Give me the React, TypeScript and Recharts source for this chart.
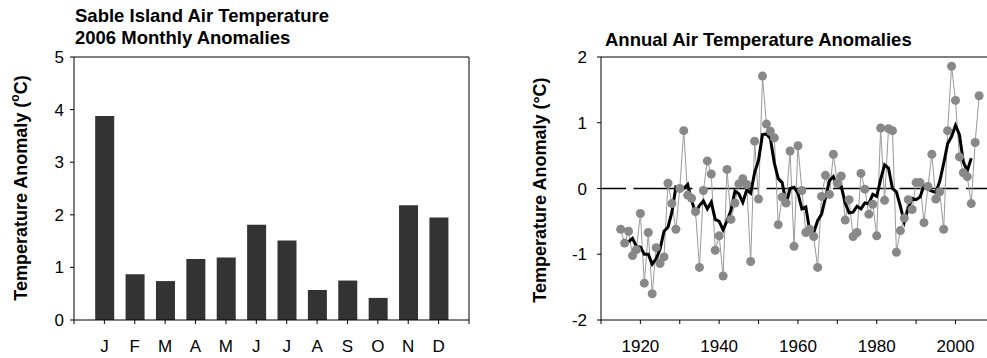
import React from 'react';
import { BarChart, Bar, XAxis, YAxis, ReferenceLine, ComposedChart, Line } from 'recharts';

const FONT = '"Liberation Sans", Arial, Helvetica, sans-serif';

// ---- Left chart: 2006 monthly anomalies ----
const MONTH_LABELS = ['J', 'F', 'M', 'A', 'M', 'J', 'J', 'A', 'S', 'O', 'N', 'D'];
const MONTHLY_ANOMALY = [3.88, 0.87, 0.74, 1.16, 1.19, 1.81, 1.51, 0.57, 0.75, 0.42, 2.18, 1.95];
const MONTHLY_Y_TICKS = [0, 1, 2, 3, 4, 5];
const MONTH_POS_TICKS = [0, 1, 2, 3, 4, 5, 6, 7, 8, 9, 10, 11, 12, 13];

// ---- Right chart: annual anomalies 1915-2006 ----
const FIRST_YEAR = 1915;
const ANNUAL_ANOMALY = [
  -0.62, -0.83, -0.65, -1.02, -0.93, -0.38, -1.44, -0.67, -1.6, -0.9,
  -1.14, -1.04, 0.08, -0.23, -0.62, 0.0, 0.88, -0.1, -0.15, -0.35,
  -1.2, -0.03, 0.42, 0.22, -0.94, -0.72, -1.33, 0.29, -0.47, -0.22,
  0.07, 0.15, 0.06, -1.11, 0.72, -0.16, 1.71, 0.98, 0.87, 0.77,
  -0.55, -0.13, -0.22, 0.57, -0.88, 0.65, -0.03, -0.67, -0.62, -0.73,
  -1.2, -0.12, 0.2, -0.09, 0.52, 0.08, 0.19, -0.48, -0.17, -0.73,
  -0.67, 0.23, -0.01, -0.39, -0.24, -0.72, 0.92, -0.18, 0.91, 0.88,
  -0.97, -0.64, -0.45, -0.17, -0.32, 0.09, 0.09, -0.52, 0.03, 0.52,
  -0.16, -0.05, -0.62, 0.88, 1.86, 1.34, 0.48, 0.24, 0.18, -0.23,
  0.7, 1.41,
];
const RUNNING_MEAN = [
  null, null,
  -0.81, -0.76, -0.88, -0.89, -1.0, -1.0, -1.15, -1.07, -0.92, -0.65,
  -0.59, -0.36, 0.02, -0.01, 0.0, 0.06, -0.18, -0.37, -0.26, -0.19,
  -0.31, -0.21, -0.47, -0.5, -0.63, -0.49, -0.33, -0.04, -0.08, -0.21,
  -0.02, -0.07, 0.24, 0.43, 0.82, 0.83, 0.76, 0.39, 0.15, 0.09,
  -0.24, 0.0, 0.02, -0.07, -0.31, -0.28, -0.65, -0.67, -0.49, -0.39,
  -0.14, 0.12, 0.18, 0.04, 0.03, -0.22, -0.37, -0.36, -0.27, -0.31,
  -0.22, -0.23, -0.09, -0.12, 0.14, 0.36, 0.31, 0.0, -0.05, -0.27,
  -0.51, -0.3, -0.15, -0.17, -0.13, 0.04, -0.01, -0.04, -0.06, 0.11,
  0.38, 0.68, 0.79, 0.96, 0.82, 0.4, 0.27, 0.46,
  null, null,
];
const ANNUAL_Y_TICKS = [-2, -1, 0, 1, 2];
const YEAR_TICKS = [1910, 1920, 1930, 1940, 1950, 1960, 1970, 1980, 1990, 2000];
const YEAR_LABELS = [1920, 1940, 1960, 1980, 2000];

const monthlyData = MONTHLY_ANOMALY.map((v, i) => ({ pos: i + 1, month: MONTH_LABELS[i], value: v }));
const annualData = ANNUAL_ANOMALY.map((v, i) => ({ year: FIRST_YEAR + i, annual: v, mean: RUNNING_MEAN[i] }));

const tickStyle = { fill: '#000', fontSize: 17, fontFamily: FONT };

function VerticalLabel({ cx, cy, degree }: { cx: number; cy: number; degree: boolean }) {
  return (
    <text
      transform={`translate(${cx},${cy}) rotate(-90)`}
      textAnchor="middle"
      dominantBaseline="central"
      fontFamily={FONT}
      fontWeight="bold"
      fontSize={18}
      fill="#000"
    >
      {degree ? (
        'Temperature Anomaly (\u00B0C)'
      ) : (
        <>
          Temperature Anomaly (
          <tspan dy={-6} fontSize={12}>o</tspan>
          <tspan dy={6}>C)</tspan>
        </>
      )}
    </text>
  );
}

export default function App() {
  return (
    <div style={{ position: 'absolute', left: 0, top: 0, width: 987, height: 358, overflow: 'hidden', background: '#fff' }}>
      <div style={{ position: 'absolute', left: 75, top: 5, fontFamily: FONT, fontWeight: 'bold', fontSize: 18.5, lineHeight: '22px', color: '#000', whiteSpace: 'nowrap' }}>
        Sable Island Air Temperature
        <br />
        2006 Monthly Anomalies
      </div>
      <div style={{ position: 'absolute', left: 605, top: 29, fontFamily: FONT, fontWeight: 'bold', fontSize: 18.5, lineHeight: '22px', color: '#000', whiteSpace: 'nowrap' }}>
        Annual Air Temperature Anomalies
      </div>

      <div style={{ position: 'absolute', left: 0, top: 0 }}>
        <BarChart width={480} height={358} data={monthlyData} margin={{ top: 57, right: 11, bottom: 0, left: 0 }}>
          <XAxis
            dataKey="pos"
            type="number"
            domain={[0, 13]}
            ticks={MONTH_POS_TICKS}
            interval={0}
            tickFormatter={(v: number) => MONTH_LABELS[v - 1] ?? ''}
            height={38}
            tickSize={4}
            tickMargin={16}
            tick={tickStyle}
            axisLine={{ stroke: '#000' }}
            tickLine={{ stroke: '#000' }}
          />
          <YAxis
            type="number"
            domain={[0, 5]}
            ticks={MONTHLY_Y_TICKS}
            interval={0}
            width={74}
            tickSize={4}
            tickMargin={6}
            tick={tickStyle}
            axisLine={{ stroke: '#000' }}
            tickLine={{ stroke: '#000' }}
            label={{ content: () => <VerticalLabel cx={21} cy={188} degree={false} /> }}
          />
          <ReferenceLine y={5} stroke="#000" />
          <ReferenceLine x={13} stroke="#000" />
          <Bar dataKey="value" fill="#333333" barSize={19} isAnimationActive={false} />
        </BarChart>
      </div>

      <div style={{ position: 'absolute', left: 480, top: 0 }}>
        <ComposedChart width={507} height={358} data={annualData} margin={{ top: 57, right: 0, bottom: 0, left: 0 }}>
          <XAxis
            dataKey="year"
            type="number"
            domain={[1910, 2008]}
            ticks={YEAR_TICKS}
            interval={0}
            tickFormatter={(v: number) => (YEAR_LABELS.includes(v) ? String(v) : '')}
            height={38}
            tickSize={4}
            tickMargin={16}
            tick={tickStyle}
            axisLine={{ stroke: '#000' }}
            tickLine={{ stroke: '#000' }}
          />
          <YAxis
            type="number"
            domain={[-2, 2]}
            ticks={ANNUAL_Y_TICKS}
            interval={0}
            width={121}
            tickSize={4}
            tickMargin={10}
            tick={tickStyle}
            axisLine={{ stroke: '#000' }}
            tickLine={{ stroke: '#000' }}
            label={{ content: () => <VerticalLabel cx={60} cy={190} degree={true} /> }}
          />
          <ReferenceLine y={2} stroke="#000" />
          <ReferenceLine y={0} stroke="#000" strokeWidth={1.5} strokeDasharray="59 7.5" strokeDashoffset={34} />
          <Line
            dataKey="annual"
            stroke="#9a9a9a"
            strokeWidth={1}
            dot={{ r: 4.5, fill: '#888888', stroke: 'none' }}
            activeDot={false}
            isAnimationActive={false}
          />
          <Line
            dataKey="mean"
            stroke="#000"
            strokeWidth={3}
            dot={false}
            activeDot={false}
            connectNulls={false}
            isAnimationActive={false}
          />
        </ComposedChart>
      </div>
    </div>
  );
}
